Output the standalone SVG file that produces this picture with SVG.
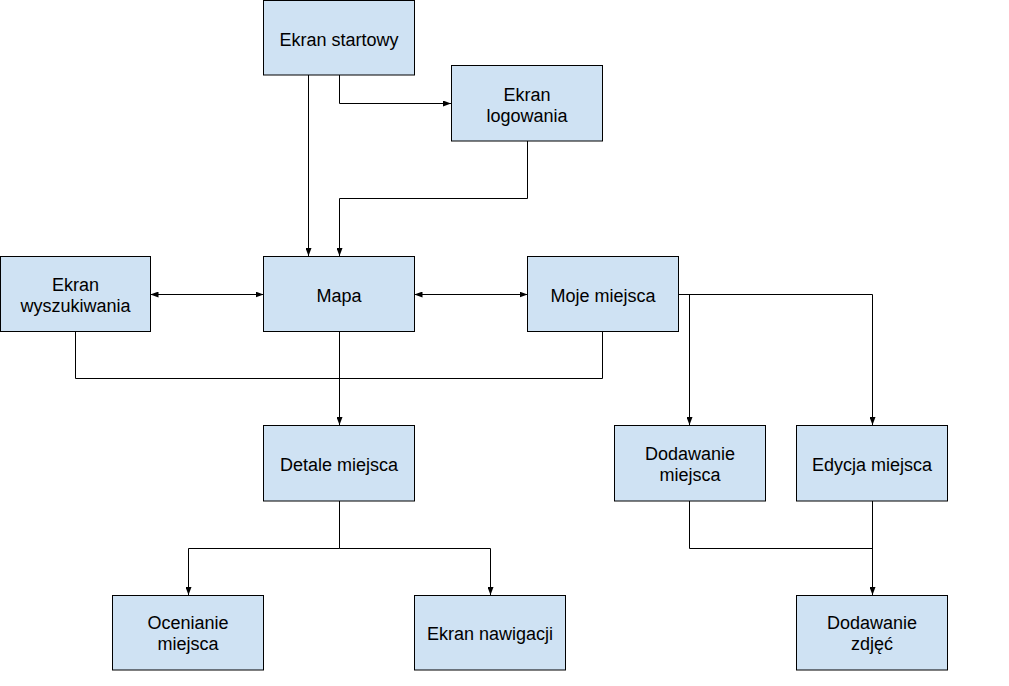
<svg xmlns="http://www.w3.org/2000/svg" width="1009" height="686" viewBox="0 0 1009 686">
  <style>
    .box rect { fill: #cfe2f3; stroke: #000; stroke-width: 1; }
    .box text { font-family: "Liberation Sans", Arial, sans-serif; font-size: 18px; fill: #000; text-anchor: middle; }
    .links path { fill: none; stroke: #000; stroke-width: 1; }
  </style>
  <defs>
    <marker id="arrow" viewBox="0 0 8 6" refX="8" refY="3" markerWidth="8" markerHeight="6" markerUnits="userSpaceOnUse" orient="auto-start-reverse">
      <path d="M0,0 L8,3 L0,6 Z" fill="#000"/>
    </marker>
  </defs>
  <rect width="1009" height="686" fill="#fff"/>

  <!-- connectors -->
  <g class="links">
    <path d="M308.5,75 V256" marker-end="url(#arrow)"/>
    <path d="M339.5,75 V103.5 H451" marker-end="url(#arrow)"/>
    <path d="M527.5,141 V198.5 H339.5 V256" marker-end="url(#arrow)"/>
    <path d="M150.5,294.5 H263.5" marker-start="url(#arrow)" marker-end="url(#arrow)"/>
    <path d="M414.5,294.5 H527.5" marker-start="url(#arrow)" marker-end="url(#arrow)"/>
    <path d="M75.5,331 V378.5 H602.5 V331"/>
    <path d="M339.5,331 V425" marker-end="url(#arrow)"/>
    <path d="M678.5,294.5 H872.5 V425" marker-end="url(#arrow)"/>
    <path d="M689.5,294.5 V425" marker-end="url(#arrow)"/>
    <path d="M339.5,501 V548.5 H188.5 V595" marker-end="url(#arrow)"/>
    <path d="M339.5,548.5 H490.5 V595" marker-end="url(#arrow)"/>
    <path d="M689.5,501 V548.5 H872.5"/>
    <path d="M872.5,501 V595" marker-end="url(#arrow)"/>
  </g>

  <g id="ekran-startowy" class="box">
    <rect x="263.5" y="0.5" width="151" height="74.5"/>
    <text x="339" y="46">Ekran startowy</text>
  </g>
  <g id="ekran-logowania" class="box">
    <rect x="451.5" y="65.5" width="151" height="75.5"/>
    <text x="527" y="101">Ekran</text>
    <text x="527" y="122">logowania</text>
  </g>
  <g id="ekran-wyszukiwania" class="box">
    <rect x="0.5" y="256.5" width="150" height="75"/>
    <text x="75.5" y="291">Ekran</text>
    <text x="75.5" y="312">wyszukiwania</text>
  </g>
  <g id="mapa" class="box">
    <rect x="263.5" y="256.5" width="151" height="75"/>
    <text x="339" y="302">Mapa</text>
  </g>
  <g id="moje-miejsca" class="box">
    <rect x="527.5" y="256.5" width="151" height="75"/>
    <text x="603" y="302">Moje miejsca</text>
  </g>
  <g id="detale-miejsca" class="box">
    <rect x="263.5" y="425.5" width="151" height="75.5"/>
    <text x="339" y="471">Detale miejsca</text>
  </g>
  <g id="dodawanie-miejsca" class="box">
    <rect x="614.5" y="425.5" width="151" height="75.5"/>
    <text x="690" y="460">Dodawanie</text>
    <text x="690" y="481">miejsca</text>
  </g>
  <g id="edycja-miejsca" class="box">
    <rect x="796.5" y="425.5" width="151" height="75.5"/>
    <text x="872" y="471">Edycja miejsca</text>
  </g>
  <g id="ocenianie-miejsca" class="box">
    <rect x="112.5" y="595.5" width="151" height="74.5"/>
    <text x="188" y="629">Ocenianie</text>
    <text x="188" y="650">miejsca</text>
  </g>
  <g id="ekran-nawigacji" class="box">
    <rect x="414.5" y="595.5" width="151" height="74.5"/>
    <text x="490" y="640">Ekran nawigacji</text>
  </g>
  <g id="dodawanie-zdjec" class="box">
    <rect x="796.5" y="595.5" width="151" height="74.5"/>
    <text x="872" y="629">Dodawanie</text>
    <text x="872" y="650">zdjęć</text>
  </g>
</svg>
